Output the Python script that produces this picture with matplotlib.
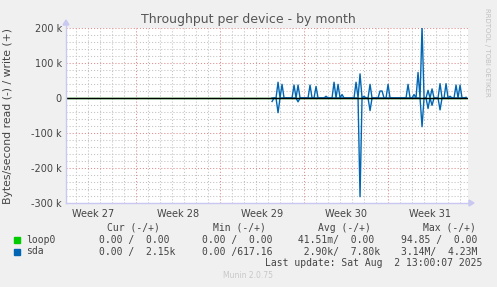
import matplotlib
matplotlib.use("Agg")
import matplotlib.pyplot as plt
import numpy as np
from matplotlib.patches import Rectangle

plt.rcParams["lines.scale_dashes"] = False

# ---- data ----
week_labels = ["Week 27", "Week 28", "Week 29", "Week 30", "Week 31"]
week_centers = [2.3, 9.3, 16.3, 23.3, 30.3]          # days from left edge
week_bounds = [5.8, 12.8, 19.8, 26.8]
x_max = 33.5

sda_start = 17.17
sda_step = 1.0 / 6.0
# write (+), thousands of bytes/s, one value per 4-hour sample
sda_write = [0, 0, 0, 45, 0, 39, 0, 0, 0, 0,
             0, 37, 0, 37, 0, 0, 0, 0, 0, 37,
             0, 0, 33, 0, 0, 0, 0, 5, 0, 0,
             0, 45, 0, 39, 0, 10, 0, 0, 0, 0,
             0, 0, 45, 0, 69, 0, 5, 0, 0, 39,
             0, 0, 0, 0, 20, 20, 0, 0, 39, 0,
             0, 0, 0, 0, 0, 0, 0, 0, 39, 0,
             0, 10, 0, 73, 0, 205, 0, 0, 22, 0,
             26, 0, 0, 0, 41, 0, 0, 41, 0, 5,
             0, 0, 37, 0, 37, 0, 0, 2]
# read (-), thousands of bytes/s
sda_read = [10, 0, 0, 42, 0, 0, 0, 0, 0, 0,
            0, 0, 0, 11, 0, 0, 0, 0, 0, 0,
            0, 0, 0, 0, 0, 0, 0, 0, 0, 0,
            0, 0, 0, 0, 0, 0, 0, 0, 0, 0,
            0, 0, 0, 0, 282, 0, 0, 0, 0, 36,
            0, 0, 0, 0, 0, 0, 0, 0, 0, 0,
            0, 0, 0, 0, 0, 0, 0, 0, 0, 0,
            0, 0, 0, 0, 0, 82, 0, 0, 30, 0,
            21, 0, 0, 0, 34, 0, 0, 0, 0, 0,
            0, 0, 0, 0, 0, 0, 0, 0]

y_ticks = [200, 100, 0, -100, -200, -300]
y_tick_labels = ["200 k", "100 k", "0", "-100 k", "-200 k", "-300 k"]

legend_header = ["Cur (-/+)", "Min (-/+)", "Avg (-/+)", "Max (-/+)"]
loop0_vals = ["0.00 /  0.00", "0.00 /  0.00", " 41.51m/  0.00", "94.85 /  0.00"]
sda_vals = ["0.00 /  2.15k", "0.00 /617.16", "  2.90k/  7.80k", "3.14M/  4.23M"]
series_names = ["loop0", "sda"]
series_colors = ["#00CC00", "#0066B3"]

# ---- figure ----
W, H = 497, 287
fig = plt.figure(figsize=(W / 100, H / 100), dpi=100, facecolor="#F0F0F0")

def fx(px):
    return px / W

def fy(py):
    return 1 - py / H

L, R, T, B = 66, 468, 28, 203
ax = fig.add_axes([fx(L), fy(B), fx(R) - fx(L), fy(T) - fy(B)])
ax.set_facecolor("white")
ax.set_xlim(0, x_max)
ax.set_ylim(-300, 200)

# grid
dash = (0, (0.8, 1.4))
minor_x = np.arange(week_bounds[0] - 5 * 1.0, x_max, 1.0)
for xv in minor_x:
    if xv > 0 and all(abs(xv - b) > 1e-6 for b in week_bounds):
        ax.axvline(xv, color="#C4C4C4", lw=0.75, ls=dash, zorder=0)
for yv in range(-300, 201, 20):
    if yv % 100 != 0:
        ax.axhline(yv, color="#C4C4C4", lw=0.75, ls=dash, zorder=0)
for b in week_bounds:
    ax.axvline(b, color="#E09090", lw=0.75, ls=dash, zorder=0)
for yv in y_ticks:
    ax.axhline(yv, color="#E09090", lw=0.75, ls=dash, zorder=0)

# series
t = sda_start + sda_step * np.arange(len(sda_write))
ax.plot([0, x_max], [0, 0], color=series_colors[0], lw=1, zorder=2)
ax.plot(t, sda_write, color=series_colors[1], lw=1, zorder=3)
ax.plot(t, [-v for v in sda_read], color=series_colors[1], lw=1, zorder=3)
ax.axhline(0, color="black", lw=1, zorder=4)

for s in ax.spines.values():
    s.set_visible(False)
ax.set_xticks(week_centers)
ax.set_xticklabels(week_labels, fontsize=7, color="#444444")
ax.set_yticks(y_ticks)
ax.set_yticklabels(y_tick_labels, fontsize=7, color="#444444")
ax.tick_params(axis="both", length=0, pad=3)
ax.tick_params(axis="x", pad=4)

# axis lines with arrows
fig.add_artist(plt.Line2D([fx(L), fx(L)], [fy(B), fy(T - 4)], color="#C8C8F0", lw=1))
fig.add_artist(plt.Line2D([fx(L), fx(R + 2)], [fy(B), fy(B)], color="#C8C8F0", lw=1))
fig.patches.append(plt.Polygon([[fx(L - 3), fy(T - 3)], [fx(L + 3), fy(T - 3)], [fx(L), fy(T - 8)]],
                               closed=True, color="#C8C8F0", transform=fig.transFigure))
fig.patches.append(plt.Polygon([[fx(R + 1), fy(B - 3)], [fx(R + 1), fy(B + 3)], [fx(R + 6), fy(B)]],
                               closed=True, color="#C8C8F0", transform=fig.transFigure))

# titles
fig.text(fx(248), fy(19), "Throughput per device - by month", ha="center", va="center",
         fontsize=9, color="#555555")
fig.text(fx(8), fy(116), "Bytes/second read (-) / write (+)", rotation=90, ha="center",
         va="center", fontsize=7.8, color="#444444")
fig.text(fx(487), fy(52), "RRDTOOL / TOBI OETIKER", rotation=270, ha="center", va="center",
         fontsize=5, color="#C0C0C0")

# legend
mono = "DejaVu Sans Mono"
hdr_x = [107, 213, 318, 423]
for x, s in zip(hdr_x, legend_header):
    fig.text(fx(x), fy(228), s, ha="left", va="center", fontsize=7, family=mono, color="#444444")
cur_x = [99.3, 201.7, 291.7, 400.7]
rows_y = [240, 251.5]
for (name, col, vals, y) in zip(series_names, series_colors, [loop0_vals, sda_vals], rows_y):
    fig.patches.append(Rectangle((fx(14), fy(y + 3)), 6 / W, 6 / H, color=col,
                                 transform=fig.transFigure))
    fig.text(fx(26), fy(y), name, ha="left", va="center", fontsize=7, family=mono, color="#444444")
    for x, s in zip(cur_x, vals):
        fig.text(fx(x), fy(y), s, ha="left", va="center", fontsize=7, family=mono, color="#444444")
fig.text(fx(482.5), fy(263), "Last update: Sat Aug  2 13:00:07 2025", ha="right", va="center",
         fontsize=7, family=mono, color="#444444")
fig.text(fx(248), fy(276), "Munin 2.0.75", ha="center", va="center", fontsize=5.5,
         color="#C8C8C8")

fig.savefig("out.png", dpi=100, facecolor=fig.get_facecolor())
